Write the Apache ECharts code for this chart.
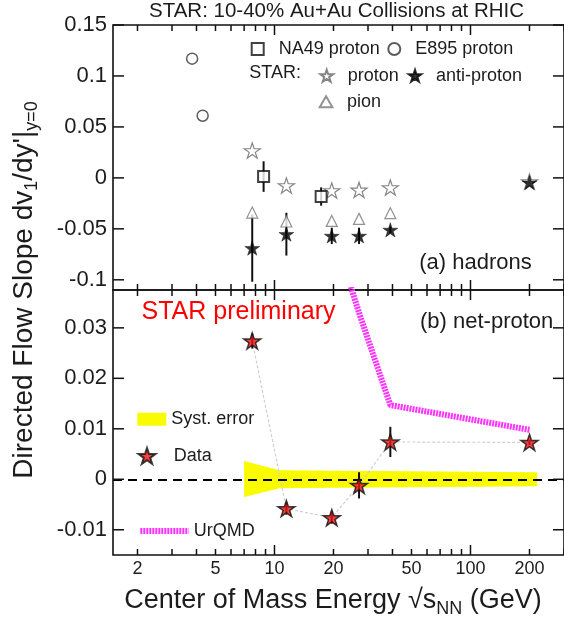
<!DOCTYPE html>
<html><head><meta charset="utf-8">
<script src="https://cdn.jsdelivr.net/npm/echarts@6/dist/echarts.min.js"></script>
<style>html,body{margin:0;padding:0;background:#fff}#c{width:564px;height:630px}</style>
</head><body><div id="c"></div>
<script>
// ---------- data ----------
const e895E = [3.8, 4.3];
const e895V = [0.117, 0.061];
const na49E = [8.8, 17.3];
const na49V = [0.0013, -0.0183];
const na49Err = [0.015, 0.009];
const starE = [7.7, 11.5, 19.6, 27, 39, 200];
const protonV = [0.0268, -0.0075, -0.0124, -0.0118, -0.0095, -0.0036];
const pionE = [7.7, 11.5, 19.6, 27, 39];
const pionV = [-0.034, -0.0428, -0.0422, -0.0402, -0.0346];
const antiProtonV = [-0.0689, -0.0552, -0.0569, -0.0569, -0.051, -0.0046];
const antiProtonErr = [0.033, 0.021, 0.008, 0.008, 0.003, 0.002];
const netProtonV = [0.0274, -0.0058, -0.0076, -0.0012, 0.0074, 0.0073];
const netProtonErr = [0.0015, 0.0012, 0.0012, 0.0026, 0.003, 0.0005];
const urqmdE = [19.6, 27, 39, 200];
const urqmdV = [0.05, 0.033, 0.0147, 0.0098];
const systE = [7, 10.6, 20, 50, 219];
const systHi = [0.0036, 0.0018, 0.0017, 0.0016, 0.0014];
const systLo = [-0.0035, -0.0018, -0.0017, -0.0016, -0.0014];
// axis ticks / labels
const xMinorTicks = [2, 3, 4, 5, 6, 7, 8, 9, 20, 30, 40, 50, 60, 70, 80, 90, 200, 300];
const xMajorTicks = [10, 100];
const xTickLabels = [2, 5, 10, 20, 50, 100, 200];
const yTopTicks = [-0.1, -0.05, 0, 0.05, 0.1, 0.15];
const yBotTicks = [-0.01, 0, 0.01, 0.02, 0.03];

// ---------- styling ----------
const FONT = "'Liberation Sans', Arial, Helvetica, sans-serif";
const TXT = '#1c1c1c';
const STAR = 'path://M0,-10 L2.245,-3.09 L9.511,-3.09 L3.633,1.18 L5.878,8.09 L0,3.82 L-5.878,8.09 L-3.633,1.18 L-9.511,-3.09 L-2.245,-3.09 Z';
const SQUARE_ICON = 'path://M0,0 L10,0 L10,10 L0,10 Z';
const TRI_ICON = 'path://M5,0 L10,8.66 L0,8.66 Z';
const X_MIN = 1.5, X_MAX = 300;
const Y_RANGE = [[-0.11, 0.15], [-0.015, 0.0375]];
const GL = 113, GW = 456;
const MINOR_LEN = 6, MAJOR_LEN = 10, Y_TICK_LEN = 11;
const TICK_COLOR = '#111', TICK_W = 1.5;

function xAx(grid, labels, extra) {
  return Object.assign({
    type: 'log', logBase: 10, gridIndex: grid, position: 'bottom', min: X_MIN, max: X_MAX,
    axisLine: { show: false, onZero: false }, splitLine: { show: false },
    axisTick: { show: false },
    axisLabel: labels ? { show: true, customValues: labels, margin: 5, fontSize: 18, fontFamily: FONT, color: TXT } : { show: false }
  }, extra || {});
}
function yAx(grid, vals) {
  return {
    type: 'value', gridIndex: grid, position: 'left', min: Y_RANGE[grid][0], max: Y_RANGE[grid][1], scale: true,
    axisLine: { show: false, onZero: false }, splitLine: { show: false },
    axisTick: { show: false },
    axisLabel: { show: true, customValues: vals, margin: 6, fontSize: 22, fontFamily: FONT, color: TXT }
  };
}
function lineEl(x1, y1, x2, y2) {
  return { type: 'line', shape: { x1: x1, y1: y1, x2: x2, y2: y2 }, style: { stroke: TICK_COLOR, lineWidth: TICK_W } };
}
// tick marks drawn through the axes' own scales (top & bottom edges of each panel)
function xTickSeries(grid, vals, len) {
  return {
    type: 'custom', coordinateSystem: 'cartesian2d', xAxisIndex: grid, yAxisIndex: grid, z: 6, silent: true, clip: false,
    encode: { x: 0, y: 1 },
    data: vals.map(v => [v, Y_RANGE[grid][0]]),
    renderItem: function (params, api) {
      const cs = params.coordSys;
      const px = api.coord([api.value(0), api.value(1)])[0];
      if (px > cs.x + cs.width + 0.5) return null;
      const b = cs.y + cs.height, t = cs.y;
      return { type: 'group', children: [lineEl(px, b, px, b - len), lineEl(px, t, px, t + len)] };
    }
  };
}
// tick marks on the left & right edges of each panel
function yTickSeries(grid, vals) {
  return {
    type: 'custom', coordinateSystem: 'cartesian2d', xAxisIndex: grid, yAxisIndex: grid, z: 6, silent: true, clip: false,
    encode: { x: 0, y: 1 },
    data: vals.map(v => [X_MIN, v]),
    renderItem: function (params, api) {
      const cs = params.coordSys;
      const py = api.coord([api.value(0), api.value(1)])[1];
      const l = cs.x, r = cs.x + cs.width;
      return { type: 'group', children: [lineEl(l, py, l + Y_TICK_LEN, py), lineEl(r, py, r - Y_TICK_LEN, py)] };
    }
  };
}
function errRender(color, w) {
  return function (params, api) {
    const x = api.value(0);
    const a = api.coord([x, api.value(1)]);
    const b = api.coord([x, api.value(2)]);
    return { type: 'line', shape: { x1: a[0], y1: a[1], x2: b[0], y2: b[1] }, style: { stroke: color, lineWidth: w } };
  };
}
const pts = (xs, ys) => xs.map((x, i) => [x, ys[i]]);
const errs = (xs, ys, es) => xs.map((x, i) => [x, ys[i] - es[i], ys[i] + es[i]]);

function lg(item, left, top, w, h, extra) {
  return Object.assign({
    data: [item], left: left, top: top, itemWidth: w, itemHeight: h, padding: 0, selectedMode: false,
    textStyle: { fontSize: 18, fontFamily: FONT, color: TXT }
  }, extra || {});
}

const option = {
  animation: false,
  backgroundColor: '#fff',
  title: {
    text: 'STAR: 10-40% Au+Au Collisions at RHIC', left: 149, top: 1, padding: 0,
    textStyle: { fontSize: 20.5, fontWeight: 'normal', fontFamily: FONT, color: TXT }
  },
  grid: [
    { left: GL, top: 25, width: GW, height: 265, show: true, borderColor: '#111', borderWidth: 1.6, backgroundColor: 'transparent' },
    { left: GL, top: 290, width: GW, height: 265, show: true, borderColor: '#111', borderWidth: 1.6, backgroundColor: 'transparent' }
  ],
  xAxis: [
    xAx(0, null),
    xAx(1, xTickLabels, {
      name: 'Center of Mass Energy √s{s|NN} (GeV)', nameLocation: 'middle', nameGap: 31,
      nameTextStyle: { fontSize: 27, fontFamily: FONT, color: TXT, lineHeight: 30, padding: [0, 11, 0, 0],
        rich: { s: { fontSize: 18, fontFamily: FONT, color: TXT, padding: [16, 0, 0, 0], lineHeight: 30 } } }
    })
  ],
  yAxis: [
    yAx(0, yTopTicks),
    yAx(1, yBotTicks)
  ],
  legend: [
    lg({ name: 'NA49 proton', icon: SQUARE_ICON }, 250.7, 40, 32, 12),
    lg('E895 proton', 387.3, 40, 32, 12),
    lg('proton', 319.4, 66.7, 32, 12),
    lg('anti-proton', 407.7, 66.7, 32, 12),
    lg({ name: 'pion', icon: TRI_ICON }, 318.7, 92.8, 32, 11),
    lg({ name: 'Syst. error', icon: 'rect', itemStyle: { color: '#fafa00' } }, 137.3, 410.2, 29, 13, { symbolKeepAspect: false }),
    lg('Data', 137.6, 447, 43.4, 16),
    lg('UrQMD', 137.3, 522, 48.4, 14, {
      lineStyle: { width: 6, type: [2, 1], color: '#ff33ff', cap: 'butt' },
      itemStyle: { color: 'transparent', borderWidth: 0, opacity: 0 }
    })
  ],
  graphic: [
    { type: 'text', x: 24, y: 290, rotation: Math.PI / 2,
      style: { text: "Directed Flow Slope dv{s|1}/dy'|{s|y=0}", fontSize: 28, fontFamily: FONT, fill: TXT, align: 'center', verticalAlign: 'middle', lineHeight: 34,
        rich: { s: { fontSize: 18, fontFamily: FONT, fill: TXT, padding: [17, 0, 0, 0], lineHeight: 34 } } } },
    { type: 'text', x: 249.3, y: 72.7, style: { text: 'STAR:', fontSize: 18, fontFamily: FONT, fill: TXT, align: 'left', verticalAlign: 'middle' } },
    { type: 'text', x: 531.7, y: 263.3, style: { text: '(a) hadrons', fontSize: 22, fontFamily: FONT, fill: TXT, align: 'right', verticalAlign: 'middle' } },
    { type: 'text', x: 553.3, y: 321.7, style: { text: '(b) net-proton', fontSize: 22, fontFamily: FONT, fill: TXT, align: 'right', verticalAlign: 'middle' } },
    { type: 'text', x: 141.5, y: 311.7, style: { text: 'STAR preliminary', fontSize: 25, fontFamily: FONT, fill: '#ff0000', align: 'left', verticalAlign: 'middle' } }
  ],
  series: [
    // ---- frame ticks ----
    xTickSeries(0, xMinorTicks, MINOR_LEN),
    xTickSeries(0, xMajorTicks, MAJOR_LEN),
    xTickSeries(1, xMinorTicks, MINOR_LEN),
    xTickSeries(1, xMajorTicks, MAJOR_LEN),
    yTickSeries(0, yTopTicks),
    yTickSeries(1, yBotTicks),
    // ---- panel (a) ----
    { type: 'custom', xAxisIndex: 0, yAxisIndex: 0, z: 2, encode: { x: 0, y: [1, 2] },
      data: errs(na49E, na49V, na49Err), renderItem: errRender('#111', 2) },
    { type: 'custom', xAxisIndex: 0, yAxisIndex: 0, z: 2, encode: { x: 0, y: [1, 2] },
      data: errs(starE, antiProtonV, antiProtonErr), renderItem: errRender('#111', 2) },
    { name: 'pion', type: 'scatter', xAxisIndex: 0, yAxisIndex: 0, z: 3, symbol: 'triangle', symbolSize: 11,
      itemStyle: { color: '#fff', borderColor: '#777', borderWidth: 1.2 }, data: pts(pionE, pionV) },
    { name: 'proton', type: 'scatter', xAxisIndex: 0, yAxisIndex: 0, z: 4, symbol: STAR, symbolSize: 16, symbolKeepAspect: true,
      itemStyle: { color: '#fff', borderColor: '#666', borderWidth: 1.2 }, data: pts(starE, protonV) },
    { name: 'anti-proton', type: 'scatter', xAxisIndex: 0, yAxisIndex: 0, z: 5, symbol: STAR, symbolSize: 15, symbolKeepAspect: true,
      itemStyle: { color: '#000', borderColor: '#000', borderWidth: 0.5 }, data: pts(starE, antiProtonV) },
    { name: 'NA49 proton', type: 'scatter', xAxisIndex: 0, yAxisIndex: 0, z: 5, symbol: 'rect', symbolSize: 11,
      itemStyle: { color: '#fff', borderColor: '#111', borderWidth: 2 }, data: pts(na49E, na49V) },
    { name: 'E895 proton', type: 'scatter', xAxisIndex: 0, yAxisIndex: 0, z: 5, symbol: 'circle', symbolSize: 11,
      itemStyle: { color: '#fff', borderColor: '#333', borderWidth: 1.5 }, data: pts(e895E, e895V) },
    // ---- panel (b) ----
    { name: 'Syst. error', type: 'custom', xAxisIndex: 1, yAxisIndex: 1, z: 1, encode: { x: 0, y: [1, 2] },
      itemStyle: { color: '#fafa00' },
      data: systE.map((e, i) => [e, systLo[i], systHi[i]]),
      renderItem: function (params, api) {
        if (params.dataIndex !== 0) return null;
        const up = [], dn = [];
        for (let i = 0; i < systE.length; i++) {
          up.push(api.coord([systE[i], systHi[i]]));
          dn.push(api.coord([systE[i], systLo[i]]));
        }
        return { type: 'polygon', shape: { points: up.concat(dn.reverse()) }, style: { fill: '#fafa00' } };
      } },
    { type: 'line', xAxisIndex: 1, yAxisIndex: 1, z: 2, symbol: 'none', silent: true,
      lineStyle: { color: '#cfcfcf', width: 1.2, type: [3, 2] }, data: pts(starE, netProtonV),
      markLine: { silent: true, symbol: 'none', label: { show: false }, animation: false,
        lineStyle: { color: '#000', width: 2, type: [9, 6] }, data: [{ yAxis: 0 }] } },
    { name: 'UrQMD', type: 'line', xAxisIndex: 1, yAxisIndex: 1, z: 3, symbol: 'none', clip: true,
      lineStyle: { color: '#ff33ff', width: 6, type: [2, 1], cap: 'butt' }, data: pts(urqmdE, urqmdV) },
    { type: 'custom', xAxisIndex: 1, yAxisIndex: 1, z: 4, encode: { x: 0, y: [1, 2] },
      data: errs(starE, netProtonV, netProtonErr), renderItem: errRender('#111', 2) },
    { name: 'Data', type: 'scatter', xAxisIndex: 1, yAxisIndex: 1, z: 5, symbol: STAR, symbolSize: 17, symbolKeepAspect: true,
      itemStyle: { color: '#ee1111', borderColor: '#111', borderWidth: 1.5 }, data: pts(starE, netProtonV) }
  ]
};
const chart = echarts.init(document.getElementById('c'), null, { renderer: 'canvas' });
chart.setOption(option);
</script></body></html>
